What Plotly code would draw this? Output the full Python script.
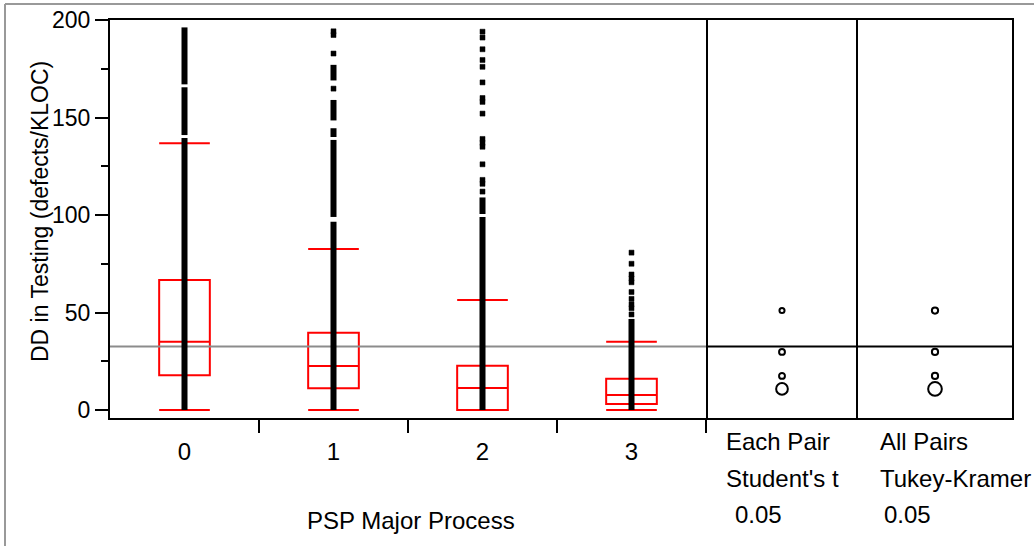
import plotly.graph_objects as go

# ---------------- data ----------------
categories = ["0", "1", "2", "3"]
cat_pos = [0, 1, 2, 3]
q1 = [17.8, 11.1, 0.0, 3.1]
median = [35.0, 22.6, 11.3, 7.7]
q3 = [66.7, 39.6, 22.7, 16.0]
lower_fence = [0.0, 0.0, 0.0, 0.0]
upper_fence = [136.8, 82.6, 56.4, 35.0]
grand_mean = 32.6

# dense runs of observations (start, end) per group
dense_runs = [
    [(0, 139.5), (141, 165.5), (167, 196.2)],
    [(0, 96.5), (99, 138.5), (140, 144.5), (148.5, 159), (169, 177)],
    [(0, 99), (100.5, 109)],
    [(0, 46.7)],
]
# isolated observations per group
single_points = [
    [200.5],
    [164.8, 182.8, 192.3, 194.2],
    [194, 191, 185, 179.5, 176, 168, 160, 158, 152, 139, 137, 135, 126, 118, 116, 112],
    [80.7, 75, 69.5, 67.5, 65.5, 60.5, 57, 54.2, 52.2, 49],
]

# comparison circles (center = group mean, radius)
circle_means = [51.0, 29.8, 17.5, 10.8]
each_pair_radius = [1.3, 1.5, 1.5, 3.0]
all_pairs_radius = [1.6, 1.6, 1.6, 3.5]

panel_labels = [["Each Pair", "Student's t", " 0.05"], ["All Pairs", "Tukey-Kramer", " 0.05"]]
x_title = "PSP Major Process"
y_title = "DD in Testing (defects/KLOC)"

# ---------------- figure ----------------
W, H = 1034, 546
FONT = "Liberation Sans, Arial, sans-serif"
FS = 24


def px_x(p):
    return p / W


def px_y(p):
    return 1 - p / H


Y_TOP, Y_BOT = 20, 418
yrange = [-4.1, 200.0]
px_per_unit = (Y_BOT - Y_TOP) / (yrange[1] - yrange[0])
P1, P2, P3, P4 = 110, 706, 858, 1012
half2 = (P3 - P2) / 2 / px_per_unit
half3 = (P4 - P3) / 2 / px_per_unit

fig = go.Figure()

# box plot (red, unfilled)
fig.add_trace(go.Box(
    x=cat_pos, q1=q1, median=median, q3=q3,
    lowerfence=lower_fence, upperfence=upper_fence,
    width=0.34, whiskerwidth=1, boxpoints=False,
    line=dict(color="#ff0000", width=2), fillcolor="rgba(0,0,0,0)",
    xaxis="x", yaxis="y", showlegend=False, hoverinfo="skip",
))

# reference (grand mean) line in main panel
fig.add_trace(go.Scatter(
    x=[-0.5, 3.5], y=[grand_mean, grand_mean], mode="lines",
    line=dict(color="#8c8c8c", width=2), xaxis="x", yaxis="y",
    showlegend=False, hoverinfo="skip",
))

# dense runs of points
rx, ry = [], []
for g, runs in enumerate(dense_runs):
    for a, b in runs:
        rx += [cat_pos[g], cat_pos[g], None]
        ry += [a, b, None]
fig.add_trace(go.Scatter(
    x=rx, y=ry, mode="lines", line=dict(color="black", width=6),
    xaxis="x", yaxis="y", showlegend=False, hoverinfo="skip", cliponaxis=False,
))

# single points
sx, sy = [], []
for g, pts in enumerate(single_points):
    sx += [cat_pos[g]] * len(pts)
    sy += pts
fig.add_trace(go.Scatter(
    x=sx, y=sy, mode="markers",
    marker=dict(symbol="square", size=5, color="black", line=dict(width=0.5, color="black")),
    xaxis="x", yaxis="y", showlegend=False, hoverinfo="skip", cliponaxis=False,
))

# comparison panels: grand mean lines
for xa, ya, hw in (("x2", "y2", half2), ("x3", "y3", half3)):
    fig.add_trace(go.Scatter(
        x=[-hw, hw], y=[grand_mean, grand_mean], mode="lines",
        line=dict(color="black", width=2), xaxis=xa, yaxis=ya,
        showlegend=False, hoverinfo="skip",
    ))

shapes = []
for xr, yr, radii in (("x2", "y2", each_pair_radius), ("x3", "y3", all_pairs_radius)):
    for m, r in zip(circle_means, radii):
        shapes.append(dict(type="circle", xref=xr, yref=yr,
                           x0=-r, x1=r, y0=m - r, y1=m + r,
                           line=dict(color="black", width=2)))

# outer grey frame
shapes.append(dict(type="line", xref="paper", yref="paper",
                   x0=px_x(5), x1=px_x(5), y0=0, y1=px_y(4),
                   line=dict(color="#999999", width=2)))
shapes.append(dict(type="line", xref="paper", yref="paper",
                   x0=px_x(5), x1=1, y0=px_y(4), y1=px_y(4),
                   line=dict(color="#999999", width=2)))

annotations = []
for (lx, nx), labels in zip(((724, 733), (878, 882)), panel_labels):
    for i, (t, yy) in enumerate(zip(labels, (441, 478, 514))):
        annotations.append(dict(
            text=t.strip(), x=px_x(nx if i == 2 else lx), y=px_y(yy),
            xref="paper", yref="paper", xanchor="left", yanchor="middle",
            showarrow=False, font=dict(family=FONT, size=FS, color="black"),
        ))
# axis titles
annotations.append(dict(text=x_title, x=px_x(411), y=px_y(520), xref="paper", yref="paper",
                        xanchor="center", yanchor="middle", showarrow=False,
                        font=dict(family=FONT, size=FS, color="black")))
annotations.append(dict(text=y_title, x=px_x(40), y=px_y(212), xref="paper", yref="paper",
                        xanchor="center", yanchor="middle", showarrow=False, textangle=-90,
                        font=dict(family=FONT, size=23, color="black")))

ydom = [px_y(Y_BOT), px_y(Y_TOP)]
base = dict(showgrid=False, zeroline=False, automargin=False)
line_on = dict(showline=True, linecolor="black", linewidth=2, mirror=True)

fig.update_layout(
    width=W, height=H,
    margin=dict(l=0, r=0, t=0, b=0),
    paper_bgcolor="white", plot_bgcolor="white",
    font=dict(family=FONT, size=FS, color="black"),
    shapes=shapes, annotations=annotations,
    xaxis=dict(
        domain=[px_x(P1), px_x(P2)], range=[-0.5, 3.5], anchor="y",
        tickvals=cat_pos, ticktext=categories, ticks="outside", ticklen=0,
        ticklabelstandoff=11,
        minor=dict(tickvals=[0.5, 1.5, 2.5, 3.5], ticks="outside", ticklen=13,
                   tickwidth=2, tickcolor="black"),
        **base, **line_on,
    ),
    yaxis=dict(
        domain=ydom, range=yrange, anchor="x",
        tickvals=[0, 50, 100, 150, 200], ticks="outside", ticklen=13,
        tickwidth=2, tickcolor="black", tickfont=dict(size=23),
        minor=dict(tickvals=[25, 75, 125, 175], ticks="outside", ticklen=7,
                   tickwidth=2, tickcolor="black"),
        **base, **line_on,
    ),
    xaxis2=dict(domain=[px_x(P2), px_x(P3)], range=[-half2, half2], anchor="y2",
                showticklabels=False, ticks="", **base, **line_on),
    yaxis2=dict(domain=ydom, range=yrange, anchor="x2", matches="y",
                showticklabels=False, ticks="", showline=False, **base),
    xaxis3=dict(domain=[px_x(P3), px_x(P4)], range=[-half3, half3], anchor="y3",
                showticklabels=False, ticks="", **base, **line_on),
    yaxis3=dict(domain=ydom, range=yrange, anchor="x3", matches="y",
                showticklabels=False, ticks="", **base, **line_on),
)

fig.write_html("out.html", config={"displayModeBar": False},
               post_script="document.body.style.margin='0';")
